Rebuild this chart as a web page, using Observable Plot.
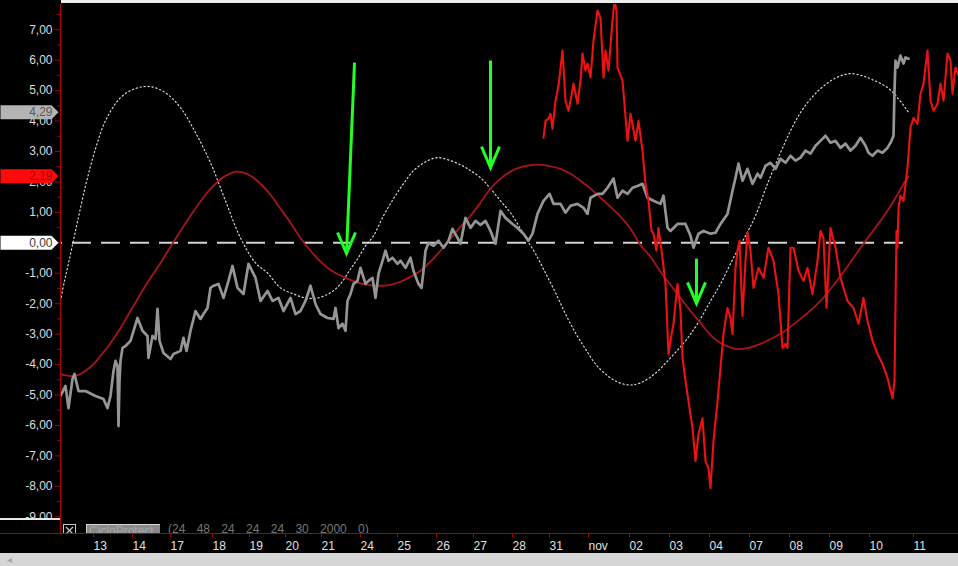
<!DOCTYPE html>
<html><head><meta charset="utf-8">
<script src="https://cdn.jsdelivr.net/npm/d3@7"></script>
<script src="https://cdn.jsdelivr.net/npm/@observablehq/plot@0.6"></script>
<style>
html,body{margin:0;padding:0;background:#000;}
#wrap{position:relative;width:958px;height:566px;background:#000;overflow:hidden;font-family:"Liberation Sans",Arial,sans-serif;}
#chart{position:absolute;left:0;top:0;}
#chart svg{display:block;}
.topstrip{position:absolute;left:61px;top:0;width:897px;height:3px;background:#ececec;}
.sep{position:absolute;left:0;top:518px;width:60px;height:13px;background:#000;border-top:2px solid #e6e6e6;border-bottom:1px solid #b00000;}
.legend{position:absolute;left:61px;top:520px;width:897px;height:13px;background:#000;overflow:hidden;}
.chk{position:absolute;left:2px;top:4px;width:13px;height:13px;border:1px solid #c8c8c8;box-sizing:border-box;}
.btn{position:absolute;left:25px;top:4px;width:74px;height:14px;background:#8a8a8a;border-top:1px solid #d8d8d8;border-left:1px solid #cfcfcf;box-sizing:border-box;color:#a8a8a8;font-size:12px;line-height:12px;padding-left:2px;white-space:pre;}
.params{position:absolute;left:107px;top:3px;color:#767676;font-size:12px;line-height:12px;white-space:pre;word-spacing:8px;}
.scroll{position:absolute;left:0;top:553px;width:958px;height:13px;background:#d6d6d6;}
.scroll span{position:absolute;left:7px;top:0;font-size:10px;line-height:13px;color:#a6a6a6;}
</style>
</head><body>
<div id="wrap">
  <div id="chart"></div>
  <div class="topstrip"></div>
  <div class="sep"></div>
  <div class="legend">
    <div class="chk"><svg width="11" height="11" style="display:block"><line x1="2" y1="2" x2="9" y2="9" stroke="#d0d0d0" stroke-width="1.2"/><line x1="9" y1="2" x2="2" y2="9" stroke="#d0d0d0" stroke-width="1.2"/></svg></div>
    <div class="btn">CicloProtect</div>
    <div class="params">(24 48 24 24 24 30 2000 0)</div>
  </div>
  <div class="scroll"><span>◂</span></div>
</div>
<script>
// ---- x axis: bar index, with day labels at the first bar of each session
const dayLabels = ["13","14","17","18","19","20","21","24","25","26","27","28","31","nov","02","03","04","07","08","09","10","11"];
const dayBars   = [33,72,110,152,189,225,261,300,337,376,413,452,489,528,569,609,649,689,729,769,809,853];
const xDomain = [0, 898];
const yDomain = [-9.55, 7.83];
const majorTicks = [7,6,5,4,3,2,1,0,-1,-2,-3,-4,-5,-6,-7,-8,-9];
const minorTicks = [7.5,6.5,5.5,4.5,3.5,2.5,1.5,0.5,-0.5,-1.5,-2.5,-3.5,-4.5,-5.5,-6.5,-7.5,-8.5];

// ---- series [bar, value]
const priceLine = [[0,-5.03],[5,-4.70],[8,-5.43],[12,-4.47],[14,-4.31],[18,-4.87],[25,-4.87],[30,-4.95],[35,-5.03],[43,-5.13],[47,-5.43],[50,-5.03],[53,-4.21],[55,-3.88],[57,-4.04],[58,-6.02],[59,-4.54],[60,-3.88],[62,-3.45],[65,-3.39],[70,-3.22],[77,-2.47],[82,-2.89],[87,-3.06],[88,-3.78],[92,-3.06],[95,-3.16],[97,-2.17],[99,-3.22],[103,-3.62],[110,-3.82],[113,-3.65],[120,-3.55],[123,-3.12],[126,-3.55],[130,-2.89],[135,-2.24],[140,-2.50],[143,-2.34],[147,-2.14],[150,-1.48],[153,-1.41],[158,-1.35],[163,-1.81],[168,-1.25],[172,-0.76],[177,-1.48],[183,-1.68],[188,-0.69],[195,-1.15],[200,-1.91],[207,-1.58],[212,-1.91],[218,-1.81],[223,-2.24],[230,-1.81],[235,-2.34],[240,-2.24],[245,-1.91],[250,-1.41],[255,-2.01],[260,-2.34],[267,-2.47],[273,-2.50],[275,-2.14],[278,-2.80],[282,-2.66],[285,-2.89],[287,-1.91],[290,-1.68],[293,-1.35],[297,-1.25],[300,-0.82],[305,-1.35],[308,-1.25],[312,-1.15],[315,-1.81],[318,-1.02],[322,-0.59],[325,-0.26],[328,-0.59],[332,-0.49],[337,-0.69],[340,-0.59],[345,-0.82],[350,-0.49],[353,-0.92],[358,-1.35],[361,-1.48],[363,-0.92],[365,-0.26],[368,0],[373,-0.10],[378,0.07],[383,-0.16],[388,0.07],[392,0.46],[397,0.16],[400,-0.03],[405,0.82],[410,0.49],[415,0.72],[420,0.59],[425,0.72],[430,0.39],[435,-0.03],[440,1.05],[445,0.82],[452,0.62],[457,0.49],[463,0.30],[468,0.07],[472,0.30],[477,0.95],[483,1.38],[489,1.61],[493,1.28],[500,1.28],[505,0.99],[510,1.22],[517,1.28],[523,1.15],[527,0.95],[530,1.48],[537,1.61],[542,1.61],[547,1.81],[553,2.11],[557,1.48],[562,1.71],[567,1.61],[572,1.81],[577,1.87],[582,1.94],[587,1.48],[593,1.38],[600,1.28],[603,1.55],[607,0.49],[610,0.39],[617,0.62],[625,0.62],[630,0.23],[633,-0.16],[638,0.30],[643,0.39],[650,0.30],[655,0.33],[660,0.62],[667,0.95],[672,1.71],[675,2.14],[678,2.60],[682,2.04],[687,2.43],[692,1.94],[697,2.27],[700,2.14],[705,2.53],[710,2.63],[715,2.43],[720,2.76],[725,2.63],[730,2.86],[735,2.70],[740,2.80],[745,3.03],[750,2.93],[755,3.19],[760,3.35],[765,3.52],[770,3.29],[775,3.35],[780,3.12],[785,3.26],[790,3.03],[795,3.19],[800,3.45],[805,3.19],[808,2.96],[812,2.86],[817,3.03],[822,2.96],[827,3.12],[831,3.35],[833,3.52],[834,5.00],[835,5.99],[837,5.76],[840,6.15],[843,5.89],[845,6.09],[848,6.05]];

const slowCycle = [[0,-4.31],[15,-4.37],[30,-4.08],[40,-3.72],[55,-3.06],[70,-2.24],[85,-1.41],[100,-0.66],[115,0.13],[130,0.89],[145,1.58],[155,1.94],[165,2.20],[177,2.34],[188,2.24],[200,1.94],[210,1.58],[220,1.12],[230,0.66],[240,0.16],[250,-0.26],[260,-0.62],[270,-0.89],[283,-1.12],[295,-1.28],[307,-1.38],[320,-1.41],[330,-1.38],[340,-1.28],[350,-1.12],[360,-0.92],[370,-0.62],[380,-0.26],[390,0.13],[400,0.53],[410,0.89],[420,1.32],[430,1.78],[440,2.11],[450,2.34],[462,2.50],[475,2.57],[488,2.53],[500,2.43],[510,2.27],[520,2.04],[530,1.78],[540,1.48],[550,1.18],[560,0.86],[570,0.46],[580,-0.07],[590,-0.46],[600,-0.95],[610,-1.38],[620,-1.81],[630,-2.24],[640,-2.63],[650,-3.03],[660,-3.29],[668,-3.42],[677,-3.49],[688,-3.45],[700,-3.32],[720,-2.99],[740,-2.50],[760,-1.91],[780,-1.09],[803,-0.03],[827,1.05],[845,2.04],[848,2.19]];

const fastCycle = [[0,-1.91],[4,-1.25],[7,-0.82],[15,0.39],[25,1.87],[35,3.09],[45,4.01],[60,4.77],[75,5.07],[90,5.13],[105,4.93],[120,4.44],[135,3.62],[150,2.63],[165,1.38],[180,0.16],[195,-0.66],[207,-0.99],[220,-1.48],[233,-1.68],[245,-1.81],[257,-1.81],[270,-1.64],[280,-1.35],[290,-0.86],[297,-0.53],[305,-0.10],[313,0.23],[323,0.89],[333,1.45],[343,1.94],[353,2.37],[365,2.66],[377,2.80],[390,2.70],[402,2.53],[410,2.37],[420,2.14],[430,1.78],[440,1.38],[450,0.99],[460,0.46],[467,0.07],[475,-0.36],[485,-0.99],[495,-1.64],[505,-2.34],[515,-2.96],[525,-3.49],[535,-3.98],[545,-4.31],[555,-4.54],[568,-4.67],[580,-4.60],[595,-4.28],[610,-3.78],[625,-3.22],[637,-2.66],[650,-1.91],[660,-1.35],[673,-0.49],[685,0.23],[695,0.89],[707,1.94],[720,2.96],[730,3.68],[740,4.28],[752,4.80],[765,5.20],[778,5.46],[790,5.56],[802,5.49],[812,5.36],[827,5.10],[837,4.77],[848,4.29]];

const signalLine = [[483,3.45],[485,4.01],[488,4.08],[490,4.24],[492,3.75],[495,4.67],[498,5.16],[502,6.32],[505,4.67],[508,4.34],[511,4.84],[513,5.23],[517,4.57],[520,5.33],[522,6.22],[525,5.66],[527,5.89],[530,5.43],[533,6.64],[537,7.63],[540,7.40],[543,5.43],[545,6.32],[548,5.66],[552,7.30],[554,7.95],[556,7.63],[557,5.76],[562,5.33],[567,3.35],[570,4.24],[575,3.35],[578,4.01],[582,3.03],[585,1.94],[588,1.38],[591,0.39],[593,0.30],[596,-0.26],[598,0.49],[602,-0.49],[605,-1.35],[608,-3.65],[610,-3.22],[613,-2.66],[617,-1.35],[620,-2.24],[622,-3.78],[625,-4.54],[628,-5.20],[632,-6.08],[635,-7.17],[638,-6.28],[642,-5.76],[645,-7.17],[648,-7.40],[650,-8.06],[653,-6.51],[657,-5.20],[660,-4.11],[663,-2.99],[667,-2.14],[670,-2.47],[672,-2.99],[675,-0.82],[677,-0.26],[679,0.07],[682,-2.40],[685,-0.59],[687,0.33],[690,-0.26],[693,-1.48],[698,-0.82],[703,-1.15],[708,-0.16],[713,-0.59],[718,-1.68],[722,-3.45],[725,-3.32],[727,-3.45],[730,-0.16],[733,-0.16],[738,-0.92],[743,-1.25],[747,-0.82],[752,-1.68],[757,-0.59],[760,0.39],[763,0.16],[766,-2.14],[770,0.49],[775,-0.16],[780,-1.15],[787,-1.91],[793,-2.14],[798,-2.66],[803,-1.81],[807,-2.57],[812,-3.22],[817,-3.65],[822,-3.98],[827,-4.44],[832,-5.10],[834,-4.54],[836,0.39],[837,-0.16],[838,1.15],[840,1.55],[843,1.38],[847,2.47],[850,3.78],[853,4.11],[857,3.91],[860,4.90],[863,5.23],[867,6.32],[870,4.67],[873,4.34],[877,4.57],[880,5.23],[883,4.67],[887,6.22],[890,5.99],[892,4.90],[895,5.76],[898,5.49]];

// ---- hand-drawn annotation arrows [barStart, valueStart, barEnd, valueEnd]
const arrows = [[294,5.92,286,-0.35],[430,5.99,430,2.47],[636,-0.52,636,-1.99]];

// ---- last-value tags
const tagValues = [4.29, 2.19, 0];
const tagFills = ["#b4b4b4", "#ff0a0a", "#ffffff"];
const tagTextFills = ["#5a5a5a", "#a00000", "#3a3a3a"];

const lastBar = priceLine[priceLine.length - 1][0];
const fmt = v => v.toFixed(2).replace(".", ",");
const dayLabelOf = new Map(dayBars.map((b, i) => [b, dayLabels[i]]));
const AXIS = "#b00000";
const GREEN = "#22ff22";

const tagSymbol = {draw(c) { c.moveTo(-29, -7); c.lineTo(22, -7); c.lineTo(29, 0); c.lineTo(22, 7); c.lineTo(-29, 7); c.closePath(); }};
const headSymbol = {draw(c) { c.moveTo(-9, -21); c.lineTo(0, 0); c.lineTo(9, -21); }};

const chart = Plot.plot({
  width: 958, height: 553,
  marginTop: 4, marginRight: 0, marginBottom: 20, marginLeft: 60,
  style: {background: "#000", color: "#dcdcdc", fontFamily: "'Liberation Sans', Arial, sans-serif", fontSize: "12px"},
  x: {domain: xDomain},
  y: {domain: yDomain},
  marks: [
    Plot.ruleY([0], {x1: 0, x2: lastBar, stroke: "#d4d4d4", strokeWidth: 2, strokeDasharray: "19 10", strokeDashoffset: 17}),
    Plot.line(fastCycle, {x: d => d[0], y: d => d[1], stroke: "#d6d6d6", strokeWidth: 1.2, strokeDasharray: "1.3 2.7", curve: "catmull-rom", clip: true}),
    Plot.line(slowCycle, {x: d => d[0], y: d => d[1], stroke: "#a8141a", strokeWidth: 1.8, curve: "catmull-rom", clip: true}),
    Plot.line(priceLine, {x: d => d[0], y: d => d[1], stroke: "#959595", strokeWidth: 2.7, strokeLinejoin: "round", clip: true}),
    Plot.line(signalLine, {x: d => d[0], y: d => d[1], stroke: "#ec1212", strokeWidth: 2.1, strokeLinejoin: "round", clip: true}),
    Plot.link(arrows, {x1: d => d[0], y1: d => d[1], x2: d => d[2], y2: d => d[3], stroke: GREEN, strokeWidth: 3}),
    Plot.dot(arrows, {x: d => d[2], y: d => d[3], symbol: headSymbol, stroke: GREEN, strokeWidth: 3, fill: "none"}),
    Plot.ruleX([xDomain[0]], {stroke: AXIS}),
    Plot.ruleY([yDomain[0]], {stroke: AXIS}),
    Plot.axisY(minorTicks, {tickSize: 3, stroke: AXIS, tickFormat: () => "", label: null}),
    Plot.axisY(majorTicks, {tickSize: 5, tickPadding: 3, stroke: AXIS, fill: "#dcdcdc", tickFormat: fmt, label: null}),
    Plot.axisX(dayBars, {tickSize: 4, tickPadding: 4, stroke: AXIS, fill: "#e0e0e0", tickFormat: d => dayLabelOf.get(d), textAnchor: "start", label: null}),
    Plot.dot(tagValues, {y: d => d, frameAnchor: "left", dx: -31, symbol: tagSymbol, fill: (d, i) => tagFills[i], stroke: "none"}),
    Plot.text(tagValues, {y: d => d, frameAnchor: "left", dx: -8, textAnchor: "end", text: fmt, fill: (d, i) => tagTextFills[i]})
  ]
});
document.getElementById("chart").appendChild(chart);
</script>
</body></html>
